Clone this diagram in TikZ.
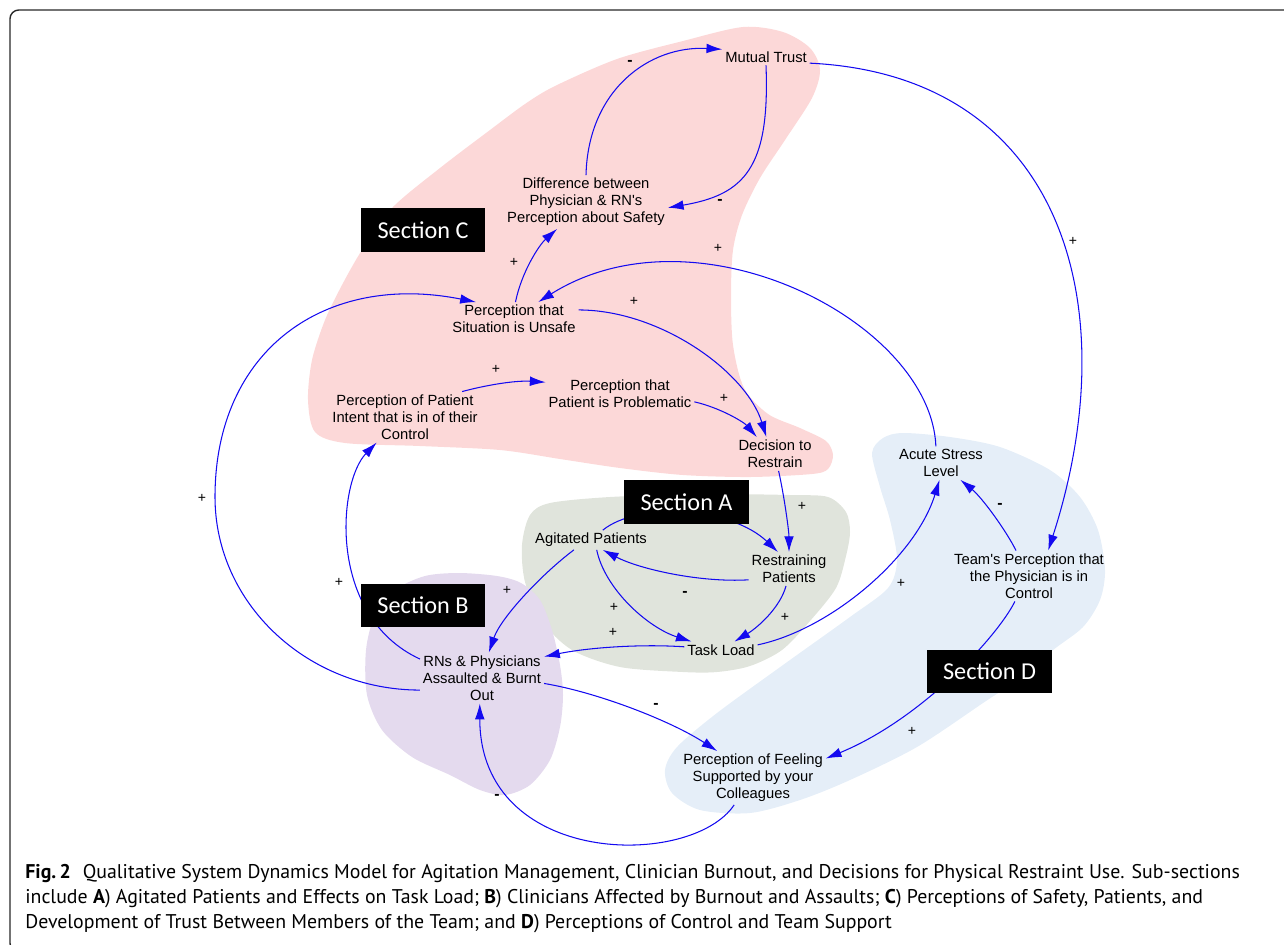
\documentclass[tikz,border=0pt]{standalone}
\usepackage{fontspec}
\setmainfont{Liberation Sans}
\newfontfamily\secfont{Carlito}
\newfontfamily\capfont{PT Sans}
\usetikzlibrary{positioning}
\usetikzlibrary{arrows.meta}
\definecolor{zoneA}{RGB}{224,228,220}
\definecolor{zoneB}{RGB}{228,218,238}
\definecolor{zoneC}{RGB}{252,216,216}
\definecolor{zoneD}{RGB}{229,238,248}
\definecolor{linkblue}{RGB}{20,10,240}
\definecolor{framegray}{RGB}{40,40,40}
\tikzset{
  var/.style={align=center, inner sep=1.5pt, font=\fontsize{8.4}{9.7}\selectfont},
  secbox/.style={fill=black, text=white, minimum width=71pt, minimum height=25pt,
    inner sep=0pt, font=\secfont\fontsize{13.8}{16}\selectfont},
  link/.style={draw=linkblue, line width=0.6pt, -{Latex[length=9pt,width=5.5pt]}},
  sgn/.style={inner sep=0pt, font=\fontsize{8}{9}\selectfont},
  capline/.style={anchor=base west, inner sep=0pt, font=\capfont\fontsize{11.3}{14}\selectfont}
}

\begin{document}
\begin{tikzpicture}[x=0.02cm, y=-0.02cm]
  \useasboundingbox (0,0) rectangle (1284,944);

  % shaded sections
  \fill[zoneC] plot[smooth cycle] coordinates {(743,27) (783,32) (810,48) (820,70) (812,98)
    (785,140) (760,178) (742,215) (733,250) (731,295) (733,345) (744,388) (768,414) (800,428)
    (826,441) (833,455) (828,469) (812,474) (750,477) (683,475) (620,468) (560,459) (500,450)
    (420,446) (345,443) (315,432) (308,400) (312,360) (325,320) (342,285) (362,250) (392,208)
    (440,168) (490,130) (525,104) (555,86) (617,59) (683,41)};
  \fill[zoneA] plot[smooth cycle] coordinates {(550,503) (610,497) (700,494) (790,495) (828,497)
    (846,512) (850,532) (846,556) (836,588) (810,621) (782,650) (750,666) (717,672) (683,672)
    (620,667) (572,650) (542,621) (525,582) (522,545) (530,515)};
  \fill[zoneB] plot[smooth cycle] coordinates {(459,573) (497,576) (521,583) (540,600) (552,630)
    (560,665) (563,695) (560,727) (550,760) (530,785) (505,795) (480,790) (450,775) (412,757)
    (382,730) (367,695) (366,650) (375,615) (395,590) (425,576)};
  \fill[zoneD] plot[smooth cycle] coordinates {(872,453) (883,438) (903,433) (950,437) (1000,447)
    (1050,470) (1080,497) (1098,530) (1105,570) (1100,600) (1083,627) (1053,650) (1017,680)
    (983,703) (917,747) (850,780) (800,800) (750,813) (700,810) (672,793) (665,770) (677,747)
    (717,713) (783,665) (850,617) (888,588) (897,560) (890,520) (880,487)};

  % variables
  \node[var] (mt) at (766,57) {Mutual Trust};
  \node[var] (diff) at (586,202) {Difference between\\Physician \& RN\textquotesingle s\\Perception about Safety};
  \node[var] (sit) at (514,319) {Perception that\\Situation is Unsafe};
  \node[var] (intent) at (405,417) {Perception of Patient\\Intent that is in of their\\Control};
  \node[var] (prob) at (620,394) {Perception that\\Patient is Problematic};
  \node[var] (dec) at (775,454) {Decision to\\Restrain};
  \node[var] (acute) at (941,463) {Acute Stress\\Level};
  \node[var] (team) at (1029,576) {Team\textquotesingle s Perception that\\the Physician is in\\Control};
  \node[var] (agit) at (591,540) {Agitated Patients};
  \node[var] (restr) at (789,569) {Restraining\\Patients};
  \node[var] (task) at (721,650) {Task Load};
  \node[var] (rns) at (482,678) {RNs \& Physicians\\Assaulted \& Burnt\\Out};
  \node[var] (feel) at (753,778) {Perception of Feeling\\Supported by your\\Colleagues};
  \coordinate (loopL) at (215,497);

  % causal links
  \draw[link] (diff.north) .. controls +(2,-85) and +(-73,-4) .. (mt.170);
  \draw[link] (mt.south) .. controls +(4,102) and +(77,-13) .. (diff.-4);
  \draw[link] (mt.-8) .. controls +(251,12) and +(80,-248) .. (team.53);
  \draw[link] (sit.85) .. controls +(6,-30) and +(-18,16) .. (diff.223);
  \draw[link] (acute.107) .. controls +(-5,-124) and +(159,-100) .. (sit.35);
  \draw[link] (sit.8) .. controls +(82,0) and +(-20,-65) .. (dec.117);
  \draw[link] (rns.191) .. controls +(-112,0) and +(0,107) .. (loopL)
    .. controls +(0,-147) and +(-151,-30) .. (sit.156);
  \draw[link] (intent.24) .. controls +(22,-6) and +(-31,-2) .. (prob.171);
  \draw[link] (prob.-6) .. controls +(26,6) and +(-13,-15) .. (dec.137);
  \draw[link] (dec.-78) .. controls +(6,27) and +(0,-20) .. (restr.north);
  \draw[link] (rns.163) .. controls +(-93,-43) and +(-39,40) .. (intent.222);
  \draw[link] (agit.40) .. controls +(36,-29) and +(-47,-45) .. (restr.123);
  \draw[link] (restr.195) .. controls +(-49,3) and +(36,19) .. (agit.-40);
  \draw[link] (agit.-60) .. controls +(8,39) and +(-44,-14) .. (task.164);
  \draw[link] (agit.210) .. controls +(-32,24) and +(12,-35) .. (rns.75);
  \draw[link] (restr.-100) .. controls +(-6,22) and +(23,-14) .. (task.32);
  \draw[link] (task.175) .. controls +(-44,-3) and +(44,-9) .. (rns.19);
  \draw[link] (task.8) .. controls +(72,-15) and +(-24,78) .. (acute.-95);
  \draw[link] (team.117) .. controls +(-10,-20) and +(22,18) .. (acute.-41);
  \draw[link] (team.241) .. controls +(-18,36) and +(95,-39) .. (feel.15);
  \draw[link] (rns.-5) .. controls +(54,9) and +(-46,-30) .. (feel.143);
  \draw[link] (feel.235) .. controls +(-43,64) and +(0,164) .. (rns.-95);

  % polarities
  \foreach \px/\py [count=\i] in {1073/241, 514/262, 718/248, 634/301, 496/369, 724/398,
      202/498, 339/582, 507/590, 802/506, 614/607, 613/632, 785/617, 901/583, 912/731}
    \node[sgn] (plus\i) at (\px,\py) {+};
  \foreach \px/\py [count=\i] in {630/63, 720/202, 685/594, 1000/506, 656/706, 497/797}
    \node[sgn, font=\fontsize{9}{10}\selectfont\bfseries] (minus\i) at (\px,\py) {-};

  % section labels
  \node[secbox] (secA) at (686.5,502) {Section A};
  \node[secbox] (secB) at (423,605.5) {Section B};
  \node[secbox] (secC) at (423,230) {Section C};
  \node[secbox] (secD) at (989.5,671.5) {Section D};

  % caption and frame
  \node[capline] (cap1) at (25,878) {\textbf{Fig.\,2}\hspace{0.6em}Qualitative System Dynamics Model for Agitation Management, Clinician Burnout, and Decisions for Physical Restraint Use. Sub-sections};
  \node[capline] (cap2) at (25,903) {include \textbf{A}) Agitated Patients and Effects on Task Load; \textbf{B}) Clinicians Affected by Burnout and Assaults; \textbf{C}) Perceptions of Safety, Patients, and};
  \node[capline] (cap3) at (25,928) {Development of Trust Between Members of the Team; and \textbf{D}) Perceptions of Control and Team Support};
  \draw[framegray, line width=0.8pt, rounded corners=5pt] (10,10) rectangle (1330,952);
\end{tikzpicture}
\end{document}
